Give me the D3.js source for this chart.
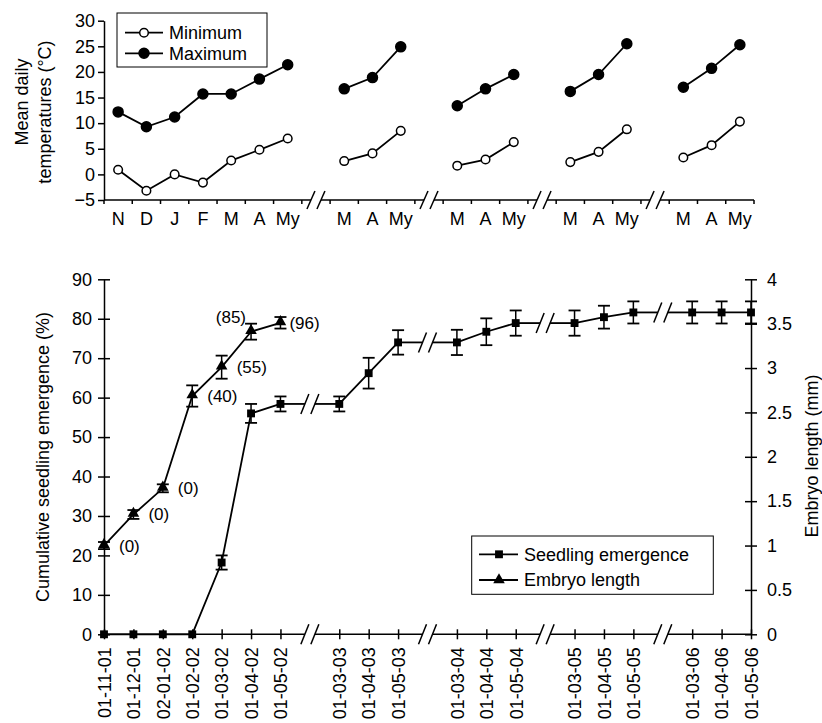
<!DOCTYPE html>
<html>
<head>
<meta charset="utf-8">
<script src="https://cdn.jsdelivr.net/npm/d3@7"></script>
<style>
body { margin: 0; background: #fff; }
svg text { font-family: "Liberation Sans", Arial, sans-serif; fill: #000; }
</style>
</head>
<body>
<div id="divbody"></div>
<script>
// ---- top panel: mean daily temperatures ----
var seasonMonths = [
  ["N", "D", "J", "F", "M", "A", "My"],
  ["M", "A", "My"],
  ["M", "A", "My"],
  ["M", "A", "My"],
  ["M", "A", "My"]
];
var minTemp = [
  [0.9, -3.2, 0, -1.6, 2.7, 4.8, 7.0],
  [2.6, 4.1, 8.5],
  [1.7, 2.9, 6.3],
  [2.4, 4.4, 8.8],
  [3.3, 5.7, 10.3]
];
var maxTemp = [
  [12.2, 9.3, 11.2, 15.7, 15.7, 18.6, 21.4],
  [16.7, 18.9, 24.9],
  [13.4, 16.7, 19.5],
  [16.2, 19.5, 25.5],
  [17.0, 20.7, 25.3]
];
var tempTicks = [-5, 0, 5, 10, 15, 20, 25, 30];

// ---- bottom panel: emergence and embryo length ----
var sampleDates = [
  ["01-11-01", "01-12-01", "02-01-02", "01-02-02", "01-03-02", "01-04-02", "01-05-02"],
  ["01-03-03", "01-04-03", "01-05-03"],
  ["01-03-04", "01-04-04", "01-05-04"],
  ["01-03-05", "01-04-05", "01-05-05"],
  ["01-03-06", "01-04-06", "01-05-06"]
];
var emergence = [
  [0, 0, 0, 0, 18.2, 56.0, 58.4],
  [58.4, 66.2, 74.0],
  [74.0, 76.7, 78.9],
  [78.9, 80.4, 81.6],
  [81.6, 81.6, 81.6]
];
var emergenceErr = [
  [0, 0, 0, 0, 1.8, 2.4, 1.9],
  [1.9, 3.9, 3.1],
  [3.2, 3.4, 3.2],
  [3.2, 2.9, 2.8],
  [2.8, 2.8, 2.8]
];
var embryoLength = [1.0, 1.35, 1.645, 2.685, 3.01, 3.41, 3.51];
var embryoErr = [0.04, 0.05, 0.045, 0.12, 0.13, 0.09, 0.065];
var embryoNotes = ["(0)", "(0)", "(0)", "(40)", "(55)", "(85)", "(96)"];
var emergenceTicks = [0, 10, 20, 30, 40, 50, 60, 70, 80, 90];
var lengthTicks = [0, 0.5, 1, 1.5, 2, 2.5, 3, 3.5, 4];

var svg = d3.select("#divbody").append("svg")
  .attr("width", 822)
  .attr("height", 723);

// lay groups out on one index axis, one empty slot between groups for the break
function makeSlots(groups) {
  var out = [], k = 0;
  groups.forEach(function(g, gi) {
    if (gi > 0) out.push({brk: true, i: k++});
    g.forEach(function(lab, j) { out.push({g: gi, j: j, i: k++, label: lab}); });
  });
  return out;
}
function slotOf(slots, g, j) {
  return slots.filter(function(s) { return s.g === g && s.j === j; })[0].i;
}
function breakMark(g, cx, cy, h) {
  [-5, 5].forEach(function(o) {
    g.append("line")
      .attr("x1", cx + o - 4).attr("y1", cy + h)
      .attr("x2", cx + o + 4).attr("y2", cy - h)
      .attr("stroke", "#000").attr("stroke-width", 1.5);
  });
}
function styleAxis(g, fs) {
  g.selectAll("path.domain").attr("stroke-width", 1.5);
  g.selectAll(".tick line").attr("stroke-width", 1.5);
  g.selectAll("text").style("font-size", fs + "px").attr("fill", "#000");
}

// ================= TOP PANEL =================
var topSlots = makeSlots(seasonMonths);
var xt = d3.scaleBand().domain(topSlots.map(function(s) { return s.i; })).range([104, 754]).padding(0);
var bw = xt.bandwidth();
var yt = d3.scaleLinear().domain([-5, 30]).range([200, 20.7]);

var gyt = svg.append("g")
  .attr("transform", "translate(104,0)")
  .call(d3.axisLeft(yt).tickValues(tempTicks).tickSize(6).tickSizeOuter(0).tickPadding(3));
styleAxis(gyt, 18);

var monthSlots = topSlots.filter(function(s) { return !s.brk; });
var gxt = svg.append("g")
  .attr("transform", "translate(0,200)")
  .call(d3.axisBottom(xt)
    .tickValues(monthSlots.map(function(s) { return s.i; }))
    .tickFormat(function(i) { return topSlots[i].label; })
    .tickSize(0).tickPadding(12));
gxt.select("path.domain").remove();
styleAxis(gxt, 18);

// axis line with gaps at the breaks, ticks at band edges
var topAxis = svg.append("g");
var edges = [];
monthSlots.forEach(function(s) { edges.push(xt(s.i), xt(s.i) + bw); });
edges = Array.from(new Set(edges.map(function(v) { return Math.round(v * 100) / 100; })));
topAxis.selectAll("line.tk").data(edges).enter().append("line")
  .attr("x1", function(d) { return d; }).attr("x2", function(d) { return d; })
  .attr("y1", 200).attr("y2", 204)
  .attr("stroke", "#000").attr("stroke-width", 1.5);
var tx0 = 104;
topSlots.filter(function(s) { return s.brk; }).forEach(function(s) {
  var cx = xt(s.i) + bw / 2;
  topAxis.append("line").attr("x1", tx0).attr("x2", cx - 5).attr("y1", 200).attr("y2", 200)
    .attr("stroke", "#000").attr("stroke-width", 1.5);
  breakMark(topAxis, cx, 200, 9);
  tx0 = cx + 5;
});
topAxis.append("line").attr("x1", tx0).attr("x2", 754).attr("y1", 200).attr("y2", 200)
  .attr("stroke", "#000").attr("stroke-width", 1.5);

var tempLine = d3.line()
  .x(function(d) { return d[0]; })
  .y(function(d) { return d[1]; });

[{vals: maxTemp, fill: "#000"}, {vals: minTemp, fill: "#fff"}].forEach(function(series) {
  series.vals.forEach(function(grp, gi) {
    var pts = grp.map(function(v, j) {
      return [xt(slotOf(topSlots, gi, j)) + bw / 2, yt(v)];
    });
    svg.append("path").attr("d", tempLine(pts))
      .attr("fill", "none").attr("stroke", "#000").attr("stroke-width", 1.8);
    svg.selectAll(null).data(pts).enter().append("circle")
      .attr("cx", function(d) { return d[0]; })
      .attr("cy", function(d) { return d[1]; })
      .attr("r", series.fill === "#000" ? 5 : 4.3)
      .attr("fill", series.fill).attr("stroke", "#000").attr("stroke-width", 1.5);
  });
});

svg.append("text").attr("transform", "translate(28,102) rotate(-90)")
  .attr("text-anchor", "middle").style("font-size", "18px").text("Mean daily");
svg.append("text").attr("transform", "translate(51,112) rotate(-90)")
  .attr("text-anchor", "middle").style("font-size", "18px").text("temperatures (°C)");

// top legend
var lt = svg.append("g");
lt.append("rect").attr("x", 117).attr("y", 13).attr("width", 150).attr("height", 54)
  .attr("fill", "#fff").attr("stroke", "#000").attr("stroke-width", 1);
[{name: "Minimum", fill: "#fff", y: 32.7}, {name: "Maximum", fill: "#000", y: 53.3}].forEach(function(d) {
  lt.append("line").attr("x1", 125).attr("x2", 163).attr("y1", d.y).attr("y2", d.y)
    .attr("stroke", "#000").attr("stroke-width", 1.8);
  lt.append("circle").attr("cx", 144).attr("cy", d.y).attr("r", d.fill === "#000" ? 5 : 4.3)
    .attr("fill", d.fill).attr("stroke", "#000").attr("stroke-width", 1.5);
  lt.append("text").attr("x", 169).attr("y", d.y).attr("dy", "0.35em")
    .style("font-size", "18px").text(d.name);
});

// ================= BOTTOM PANEL =================
var botSlots = makeSlots(sampleDates);
var xb = d3.scalePoint().domain(botSlots.map(function(s) { return s.i; })).range([104, 751]);
var yl = d3.scaleLinear().domain([0, 90]).range([634.3, 279.3]);
var yr = d3.scaleLinear().domain([0, 4]).range([634.3, 279.3]);

var gyl = svg.append("g")
  .attr("transform", "translate(104,0)")
  .call(d3.axisLeft(yl).tickValues(emergenceTicks).tickSize(6).tickSizeOuter(0).tickPadding(6));
gyl.selectAll(".tick line").attr("x1", 6);
styleAxis(gyl, 18);

var gyr = svg.append("g")
  .attr("transform", "translate(751,0)")
  .call(d3.axisRight(yr).tickValues(lengthTicks).tickSize(6).tickSizeOuter(0).tickPadding(10)
    .tickFormat(function(d) { return String(d); }));
gyr.selectAll(".tick line").attr("x1", -6);
styleAxis(gyr, 18);

var dateSlots = botSlots.filter(function(s) { return !s.brk; });
var gxb = svg.append("g")
  .attr("transform", "translate(0,634.3)")
  .call(d3.axisBottom(xb)
    .tickValues(dateSlots.map(function(s) { return s.i; }))
    .tickFormat(function(i) { return botSlots[i].label; })
    .tickSize(5));
gxb.select("path.domain").remove();
gxb.selectAll(".tick line").attr("y1", -5);
gxb.selectAll(".tick text")
  .attr("transform", "rotate(-90)")
  .attr("x", -13).attr("y", 0).attr("dy", "0.35em")
  .style("text-anchor", "end");
styleAxis(gxb, 18);

var botAxis = svg.append("g");
var bx0 = 104;
botSlots.filter(function(s) { return s.brk; }).forEach(function(s) {
  var cx = xb(s.i);
  botAxis.append("line").attr("x1", bx0).attr("x2", cx - 5).attr("y1", 634.3).attr("y2", 634.3)
    .attr("stroke", "#000").attr("stroke-width", 1.5);
  breakMark(botAxis, cx, 634.3, 10);
  bx0 = cx + 5;
});
botAxis.append("line").attr("x1", bx0).attr("x2", 751).attr("y1", 634.3).attr("y2", 634.3)
  .attr("stroke", "#000").attr("stroke-width", 1.5);

svg.append("text").attr("transform", "translate(48.5,457) rotate(-90)")
  .attr("text-anchor", "middle").style("font-size", "18px").text("Cumulative seedling emergence (%)");
svg.append("text").attr("transform", "translate(818,456) rotate(-90)")
  .attr("text-anchor", "middle").style("font-size", "18px").text("Embryo length (mm)");

function errBar(g, x, y0, y1) {
  g.append("line").attr("x1", x).attr("x2", x).attr("y1", y0).attr("y2", y1)
    .attr("stroke", "#000").attr("stroke-width", 1.5);
  [y0, y1].forEach(function(yy) {
    g.append("line").attr("x1", x - 6).attr("x2", x + 6).attr("y1", yy).attr("y2", yy)
      .attr("stroke", "#000").attr("stroke-width", 1.8);
  });
}

var tri = d3.symbol().type(d3.symbolTriangle).size(58);
var sq = d3.symbol().type(d3.symbolSquare).size(62);

// seedling emergence series (left axis), joined across the breaks
var em = svg.append("g");
var emPts = [];
emergence.forEach(function(grp, gi) {
  grp.forEach(function(v, j) {
    emPts.push({x: xb(slotOf(botSlots, gi, j)), v: v, e: emergenceErr[gi][j], g: gi});
  });
});
emergence.forEach(function(grp, gi) {
  var pts = emPts.filter(function(p) { return p.g === gi; });
  em.append("path").attr("d", tempLine(pts.map(function(p) { return [p.x, yl(p.v)]; })))
    .attr("fill", "none").attr("stroke", "#000").attr("stroke-width", 1.8);
});
botSlots.filter(function(s) { return s.brk; }).forEach(function(s, bi) {
  var cx = xb(s.i);
  var left = emPts.filter(function(p) { return p.g === bi; }).slice(-1)[0];
  var right = emPts.filter(function(p) { return p.g === bi + 1; })[0];
  em.append("line").attr("x1", left.x).attr("x2", cx - 5)
    .attr("y1", yl(left.v)).attr("y2", yl(left.v))
    .attr("stroke", "#000").attr("stroke-width", 1.8);
  em.append("line").attr("x1", cx + 5).attr("x2", right.x)
    .attr("y1", yl(right.v)).attr("y2", yl(right.v))
    .attr("stroke", "#000").attr("stroke-width", 1.8);
  breakMark(em, cx, yl(left.v), 10);
});
emPts.forEach(function(p) {
  if (p.e > 0) errBar(em, p.x, yl(p.v - p.e), yl(p.v + p.e));
  em.append("path").attr("d", sq).attr("transform", "translate(" + p.x + "," + yl(p.v) + ")")
    .attr("fill", "#000");
});

// embryo length series (right axis)
var eb = svg.append("g");
var ebPts = embryoLength.map(function(v, j) {
  return {x: xb(slotOf(botSlots, 0, j)), v: v, e: embryoErr[j], note: embryoNotes[j], j: j};
});
eb.append("path").attr("d", tempLine(ebPts.map(function(p) { return [p.x, yr(p.v)]; })))
  .attr("fill", "none").attr("stroke", "#000").attr("stroke-width", 1.8);
ebPts.forEach(function(p) {
  errBar(eb, p.x, yr(p.v - p.e), yr(p.v + p.e));
  eb.append("path").attr("d", tri).attr("transform", "translate(" + p.x + "," + (yr(p.v) - 1) + ")")
    .attr("fill", "#000");
  var last = p.j === ebPts.length - 1, above = p.j === ebPts.length - 2;
  eb.append("text")
    .attr("x", above ? p.x - 5 : p.x + (last ? 9 : 15))
    .attr("y", above ? yr(p.v) - 15 : yr(p.v))
    .attr("dy", "0.35em")
    .attr("text-anchor", above ? "end" : "start")
    .style("font-size", "17px")
    .text(p.note);
});

// bottom legend
var lb = svg.append("g");
lb.append("rect").attr("x", 471.7).attr("y", 536).attr("width", 241.6).attr("height", 58.3)
  .attr("fill", "#fff").attr("stroke", "#000").attr("stroke-width", 1);
[{name: "Seedling emergence", sym: sq, y: 554.3}, {name: "Embryo length", sym: tri, y: 580}].forEach(function(d) {
  lb.append("line").attr("x1", 479).attr("x2", 518).attr("y1", d.y).attr("y2", d.y)
    .attr("stroke", "#000").attr("stroke-width", 1.8);
  lb.append("path").attr("d", d.sym).attr("transform", "translate(499," + d.y + ")").attr("fill", "#000");
  lb.append("text").attr("x", 524).attr("y", d.y).attr("dy", "0.35em")
    .style("font-size", "18px").text(d.name);
});
</script>
</body>
</html>
